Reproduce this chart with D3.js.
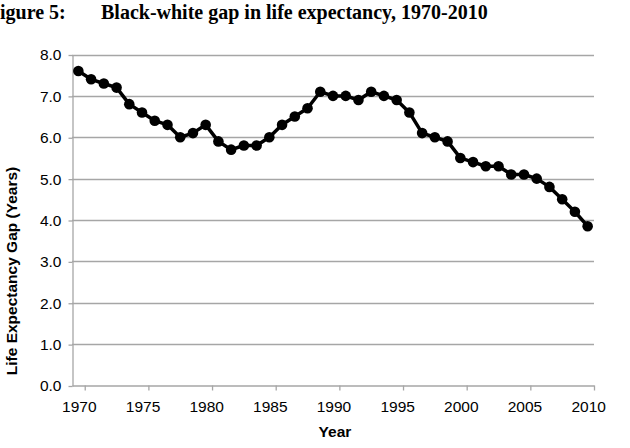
<!DOCTYPE html>
<html>
<head>
<meta charset="utf-8">
<script src="https://cdn.jsdelivr.net/npm/d3@7"></script>
<style>
  html, body { margin: 0; padding: 0; background: #fff; }
  svg { display: block; }
  .title { font-family: "Liberation Serif", "Times New Roman", serif; font-weight: bold; font-size: 20px; }
  .tick text, .xlabel { font-family: "Liberation Sans", Arial, sans-serif; font-size: 15.5px; fill: #000; }
  .axisTitle { font-family: "Liberation Sans", Arial, sans-serif; font-weight: bold; font-size: 15.5px; }
</style>
</head>
<body>
<div id="chart"></div>
<script>
"use strict";

// data
const years = d3.range(1970, 2011);
const gap = [
  7.6, 7.4, 7.3, 7.2, 6.8, 6.6, 6.4, 6.3, 6.0, 6.1,
  6.3, 5.9, 5.7, 5.8, 5.8, 6.0, 6.3, 6.5, 6.7, 7.1,
  7.0, 7.0, 6.9, 7.1, 7.0, 6.9, 6.6, 6.1, 6.0, 5.9,
  5.5, 5.4, 5.3, 5.3, 5.1, 5.1, 5.0, 4.8, 4.5, 4.2,
  3.85
];
const xLabels = [1970, 1975, 1980, 1985, 1990, 1995, 2000, 2005, 2010];
const yTicks = [0, 1, 2, 3, 4, 5, 6, 7, 8];

const CHART = (function() {
  var _width = 630;
  var _height = 448;
  var _left = 72, _right = 594, _top = 54.5, _bottom = 385.5;
  var _gridColor = "#a6a6a6";

  var svg = d3.select("#chart").append("svg")
    .attr("width", _width)
    .attr("height", _height);

  // category axis: each year sits in the middle of its slot
  var x = d3.scaleLinear().domain([1969.5, 2010.5]).range([_left, _right]);
  var y = d3.scaleLinear().domain([0, 8]).range([_bottom, _top]);

  // title (the "F" is cropped off in the original)
  svg.append("text").attr("class", "title")
    .attr("x", 0).attr("y", 19)
    .text("igure 5:");
  svg.append("text").attr("class", "title")
    .attr("x", 101).attr("y", 19)
    .text("Black-white gap in life expectancy, 1970-2010");

  // gridlines
  svg.append("g")
    .selectAll("line")
    .data(yTicks.filter(function(d) { return d > 0; }))
    .join("line")
    .attr("x1", _left).attr("x2", _right)
    .attr("y1", function(d) { return Math.round(y(d)) + 0.5; })
    .attr("y2", function(d) { return Math.round(y(d)) + 0.5; })
    .attr("stroke", _gridColor)
    .attr("stroke-width", 1.3);

  // y axis
  var yAxis = svg.append("g")
    .attr("transform", "translate(" + (_left + 0.5) + ",0.5)")
    .call(d3.axisLeft(y).tickValues(yTicks).tickFormat(d3.format(".1f")).tickSize(4).tickSizeOuter(0).tickPadding(7));
  yAxis.select(".domain").attr("stroke", _gridColor).attr("stroke-width", 1.3);
  yAxis.selectAll(".tick line").attr("stroke", _gridColor).attr("stroke-width", 1.3);

  // x axis: tick marks between categories, labels on the categories
  var xAxis = svg.append("g")
    .attr("transform", "translate(0," + (_bottom) + ")")
    .call(d3.axisBottom(x)
      .tickValues(xLabels.map(function(d) { return d + 0.5; }))
      .tickFormat("")
      .tickSize(5)
      .tickSizeOuter(0));
  xAxis.select(".domain").attr("stroke", _gridColor).attr("stroke-width", 1.3);
  xAxis.selectAll(".tick line").attr("stroke", _gridColor).attr("stroke-width", 1.3);

  svg.append("g")
    .selectAll("text")
    .data(xLabels)
    .join("text")
    .attr("class", "xlabel")
    .attr("x", function(d) { return x(d) + 1; })
    .attr("y", 411.5)
    .attr("text-anchor", "middle")
    .text(function(d) { return d; });

  // axis titles
  svg.append("text").attr("class", "axisTitle")
    .attr("x", 335).attr("y", 437)
    .attr("text-anchor", "middle")
    .text("Year");
  svg.append("text").attr("class", "axisTitle")
    .attr("transform", "translate(17,271) rotate(-90)")
    .attr("text-anchor", "middle")
    .text("Life Expectancy Gap (Years)");

  // series
  var points = years.map(function(yr, i) { return { year: yr, value: gap[i] }; });
  var line = d3.line()
    .x(function(d) { return x(d.year); })
    .y(function(d) { return y(d.value); });

  svg.append("path")
    .datum(points)
    .attr("d", line)
    .attr("fill", "none")
    .attr("stroke", "#000")
    .attr("stroke-width", 3.5)
    .attr("stroke-linejoin", "round");

  svg.append("g")
    .selectAll("circle")
    .data(points)
    .join("circle")
    .attr("cx", function(d) { return x(d.year); })
    .attr("cy", function(d) { return y(d.value); })
    .attr("r", 5.3)
    .attr("fill", "#000");

  return {
    get width() { return _width; },
    get height() { return _height; }
  };
}());
</script>
</body>
</html>
